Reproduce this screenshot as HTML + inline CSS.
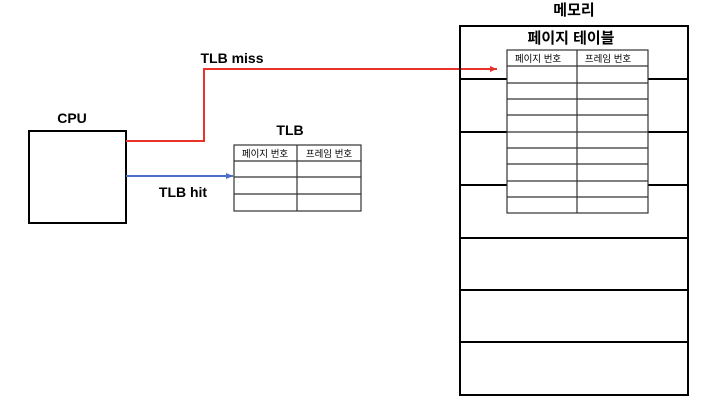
<!DOCTYPE html>
<html><head><meta charset="utf-8"><style>
body{margin:0;background:#fff;width:714px;height:410px;overflow:hidden}
svg text{font-family:"Liberation Sans","Noto Sans CJK KR",sans-serif;font-weight:bold;fill:#000}
.s{font-weight:normal;font-size:9.5px}
</style></head><body>
<svg width="714" height="410" xmlns="http://www.w3.org/2000/svg">
<defs>
<marker id="ar" markerWidth="8" markerHeight="8" refX="7" refY="4" orient="auto" markerUnits="userSpaceOnUse"><path d="M0,1 L7,4 L0,7z" fill="#e8322a"/></marker>
<marker id="ab" markerWidth="8" markerHeight="8" refX="7" refY="4" orient="auto" markerUnits="userSpaceOnUse"><path d="M0,1 L7,4 L0,7z" fill="#4a6fc4"/></marker>
</defs>
<text x="72" y="123" font-size="14" text-anchor="middle">CPU</text>
<rect x="29" y="131" width="97" height="92" fill="none" stroke="#000" stroke-width="2"/>
<polyline points="126,141 204,141 204,69 497,69" fill="none" stroke="#e8322a" stroke-width="2" marker-end="url(#ar)"/>
<line x1="126" y1="176" x2="233" y2="176" stroke="#4a6fc4" stroke-width="2" marker-end="url(#ab)"/>
<text x="232" y="63" font-size="14" text-anchor="middle">TLB miss</text>
<text x="183" y="197" font-size="14" text-anchor="middle">TLB hit</text>
<text x="290" y="135" font-size="14" text-anchor="middle">TLB</text>
<g stroke="#333" stroke-width="1.2" fill="none">
<rect x="234" y="145" width="127" height="66"/>
<line x1="297" y1="145" x2="297" y2="211"/>
<line x1="234" y1="161" x2="361" y2="161"/>
<line x1="234" y1="177" x2="361" y2="177"/>
<line x1="234" y1="194" x2="361" y2="194"/>
</g>
<text class="s" x="265" y="157" text-anchor="middle">페이지 번호</text>
<text class="s" x="329" y="157" text-anchor="middle">프레임 번호</text>
<text x="574" y="15" font-size="15" text-anchor="middle">메모리</text>
<rect x="460" y="26" width="228" height="369" fill="none" stroke="#000" stroke-width="2"/>
<g stroke="#000" stroke-width="2">
<line x1="460" y1="79" x2="688" y2="79"/>
<line x1="460" y1="132" x2="688" y2="132"/>
<line x1="460" y1="185" x2="688" y2="185"/>
<line x1="460" y1="238" x2="688" y2="238"/>
<line x1="460" y1="290" x2="688" y2="290"/>
<line x1="460" y1="342" x2="688" y2="342"/>
</g>
<text x="571" y="43" font-size="15" text-anchor="middle">페이지 테이블</text>
<rect x="507" y="50" width="141" height="163" fill="#fff" stroke="#333" stroke-width="1.2"/>
<g stroke="#333" stroke-width="1.2">
<line x1="577" y1="50" x2="577" y2="213"/>
<line x1="507" y1="66" x2="648" y2="66"/>
<line x1="507" y1="83" x2="648" y2="83"/>
<line x1="507" y1="99" x2="648" y2="99"/>
<line x1="507" y1="115" x2="648" y2="115"/>
<line x1="507" y1="132" x2="648" y2="132"/>
<line x1="507" y1="148" x2="648" y2="148"/>
<line x1="507" y1="164" x2="648" y2="164"/>
<line x1="507" y1="181" x2="648" y2="181"/>
<line x1="507" y1="197" x2="648" y2="197"/>
</g>
<text class="s" x="538" y="62" text-anchor="middle">페이지 번호</text>
<text class="s" x="608" y="62" text-anchor="middle">프레임 번호</text>
</svg>
</body></html>
